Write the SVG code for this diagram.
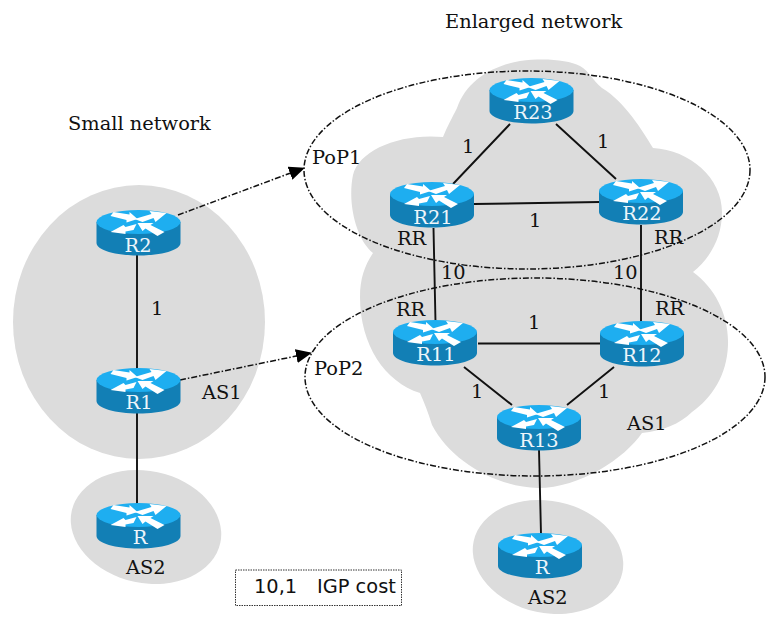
<svg xmlns="http://www.w3.org/2000/svg" xmlns:xlink="http://www.w3.org/1999/xlink" width="784" height="640" viewBox="0 0 784 640">
<style>
text{font-family:"DejaVu Serif",serif;font-size:19.4px;fill:#111}
.s{font-family:"DejaVu Sans",sans-serif}
.n{fill:#eef6fb;text-anchor:middle}
.cloud{fill:#dcdcdc}
.link{stroke:#111;stroke-width:1.9;fill:none}
.dd{stroke:#111;stroke-width:1.5;fill:none;stroke-dasharray:6 2 1.500 2}
</style>
<defs>
<marker id="arr" markerUnits="userSpaceOnUse" markerWidth="16" markerHeight="14" refX="15" refY="7" orient="auto"><path d="M0 0L16 7L0 14Z" fill="#000"/></marker>
<g id="router">
<path d="M-42 -10V11C-42 18 -23 23.500 0 23.500S42 18 42 11V-10Z" fill="#127fb5"/>
<ellipse cx="0" cy="-10" rx="42" ry="12" fill="#1eaef0"/>
<g fill="#fff">
<path d="M-25 -20L-9 -17.500L-9 -20L-1 -13L-12 -9.500L-12 -12L-28 -16Z"/>
<path d="M4 -10L15 -14L17 -10L28 -19L11 -21L13 -18L-4 -13Z"/>
<path d="M-2 -8L-13 -5L-15 -7L-28 0L-13 2L-13 -0.500L-5 -2Z"/>
<path d="M26 0L12 -7L15 -9L-1 -9L4 -1L7 -3.500L19 4Z"/>
</g>
</g>
</defs>
<g id="clouds">
<ellipse class="cloud" cx="139" cy="322" rx="126" ry="137"/>
<ellipse class="cloud" cx="146" cy="527" rx="76" ry="56" transform="rotate(12 146 527)"/>
<ellipse class="cloud" cx="548" cy="557" rx="76" ry="56" transform="rotate(12 548 557)"/>
<path class="cloud" d="M443 137C448 125 452 118 457 108C466 82 490 66 520 61C545 58 568 60 580 66C590 72 592 80 602 88C625 102 642 130 653 148C690 150 722 178 722 212C722 240 708 260 693 272C715 288 729 315 728 345C727 375 712 398 692 412C680 424 662 431 642 433C625 458 580 488 538 488C495 487 450 460 432 425C428 412 424 402 420 393C385 382 360 345 360 297C360 278 365 265 373 253C357 240 347 205 353 175C359 150 400 133 443 137Z"/>
</g>
<g id="connectors">
<path class="link" d="M137 252V372M137 408V505M510 124L453 184M556 124L616 179M474 204L600 202M433.500 228L435.500 322M641 225V323M478 343.500H601M464 367L512 405M614 367L567 405M539 450L541 534"/>
<path class="dd" marker-end="url(#arr)" d="M178 215L304 168"/>
<path class="dd" marker-end="url(#arr)" d="M180 380L311 353"/>
<ellipse class="dd" cx="527" cy="170" rx="223" ry="99"/>
<ellipse class="dd" cx="535" cy="377" rx="230" ry="99"/>
</g>
<g id="R2"><use xlink:href="#router" x="138.500" y="232"/><text class="n" x="138" y="252">R2</text></g>
<g id="R1"><use xlink:href="#router" x="138.500" y="390"/><text class="n" x="139" y="409">R1</text></g>
<g id="R"><use xlink:href="#router" x="138.500" y="525"/><text class="n" x="140" y="544">R</text></g>
<g id="R23"><use xlink:href="#router" x="531.500" y="100"/><text class="n" x="533" y="119">R23</text></g>
<g id="R21"><use xlink:href="#router" x="432" y="204"/><text class="n" x="433" y="224">R21</text></g>
<g id="R22"><use xlink:href="#router" x="641" y="201"/><text class="n" x="642" y="220">R22</text></g>
<g id="R11"><use xlink:href="#router" x="435" y="342"/><text class="n" x="436" y="361">R11</text></g>
<g id="R12"><use xlink:href="#router" x="642" y="343"/><text class="n" x="642" y="362">R12</text></g>
<g id="R13"><use xlink:href="#router" x="539" y="427"/><text class="n" x="539" y="447">R13</text></g>
<g id="R-right"><use xlink:href="#router" x="540" y="555"/><text class="n" x="542" y="574">R</text></g>
<g id="labels">
<text x="445" y="28">Enlarged network</text>
<text x="68" y="130">Small network</text>
<text x="312" y="164">PoP1</text>
<text x="314" y="375">PoP2</text>
<text x="151" y="315">1</text>
<text x="202" y="399">AS1</text>
<text x="126" y="574">AS2</text>
<text x="528" y="604">AS2</text>
<text x="627" y="430">AS1</text>
<text x="462" y="153">1</text>
<text x="597" y="148">1</text>
<text x="529" y="227">1</text>
<text x="528" y="329">1</text>
<text x="471" y="398">1</text>
<text x="598" y="398">1</text>
<text x="397" y="245">RR</text>
<text x="654" y="244">RR</text>
<text x="396" y="316">RR</text>
<text x="655" y="315">RR</text>
<text x="441" y="279">10</text>
<text x="613" y="279">10</text>
</g>
<g id="legend">
<rect x="235.500" y="570" width="166" height="35.500" fill="#fff" stroke="#333" stroke-dasharray="1.500 1"/>
<text class="s" x="254" y="593">10,1</text>
<text class="s" x="317" y="593">IGP cost</text>
</g>
</svg>
